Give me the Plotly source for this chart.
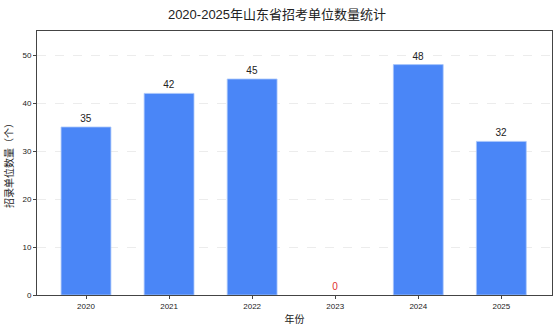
import plotly.graph_objects as go

years = ["2020", "2021", "2022", "2023", "2024", "2025"]
counts = [35, 42, 45, 0, 48, 32]
label_colors = ["#222222" if v > 0 else "#e03030" for v in counts]
edge_widths = [0.8 if v > 0 else 0 for v in counts]

font = "Liberation Sans, Noto Sans CJK SC, sans-serif"

fig = go.Figure()
fig.add_trace(go.Bar(
    x=list(range(len(years))), y=counts, width=0.6,
    marker=dict(color="#4a86f7", line=dict(color="#a9c6fa", width=edge_widths)),
    text=[str(v) for v in counts], textposition="outside",
    textfont=dict(size=10, color=label_colors, family=font),
    cliponaxis=False,
))

fig.update_layout(
    width=554, height=330,
    margin=dict(l=37, r=2, t=31, b=35),
    paper_bgcolor="white", plot_bgcolor="white",
    font=dict(family=font, color="#222222"),
    title=dict(text="2020-2025年山东省招考单位数量统计", x=0.5, xanchor="center",
               y=0.957, yanchor="middle", font=dict(size=13, color="#222222")),
    showlegend=False,
)
fig.update_xaxes(
    range=[-0.59, 5.61], tickmode="array", tickvals=list(range(len(years))), ticktext=years,
    tickfont=dict(size=8), ticks="outside", ticklen=3, tickcolor="#444",
    showline=True, linecolor="#444", linewidth=1, mirror=True, showgrid=False,
    title=dict(text="年份", font=dict(size=10), standoff=6),
)
fig.update_yaxes(
    range=[0, 55], tickvals=[0, 10, 20, 30, 40, 50], tickfont=dict(size=8),
    ticks="outside", ticklen=3, tickcolor="#444",
    showline=True, linecolor="#444", linewidth=1, mirror=True,
    showgrid=True, gridcolor="#ececec", griddash="dash", gridwidth=0.5,
    zeroline=False,
    title=dict(text="招录单位数量（个）", font=dict(size=10), standoff=6),
)

fig.write_html("out.html")
